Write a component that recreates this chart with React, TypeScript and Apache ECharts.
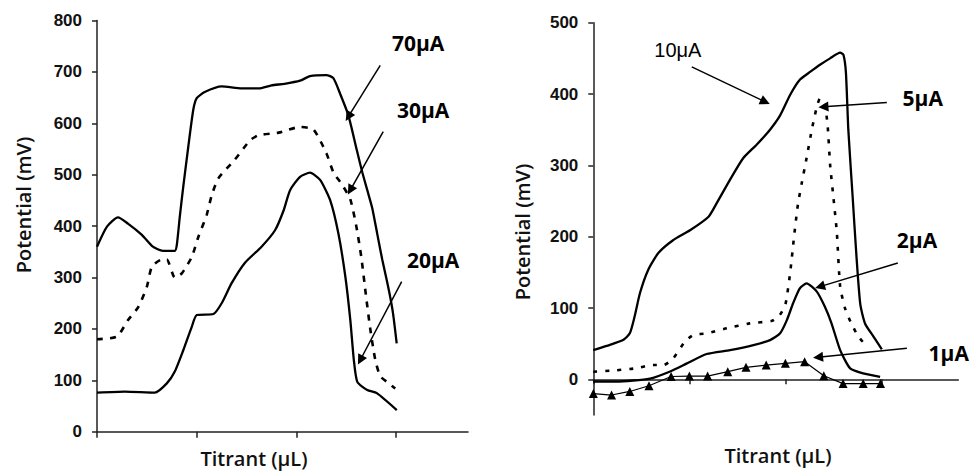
import React, { useEffect, useRef } from "react";
import * as echarts from "echarts";

// ---------- Left panel data (x: titrant, arbitrary units; y: potential mV) ----------
const current70uA: [number, number][] = [
  [0, 360], [10, 399], [21, 417], [31, 405], [45, 383], [56, 360], [66, 352], [78, 352],
  [80, 363], [83, 418], [86.5, 477], [91.5, 554], [96.5, 626], [100, 649], [108, 661],
  [125, 672], [145, 668], [162, 668], [175, 674], [188, 677], [203.6, 683], [213.6, 692],
  [230, 694], [237, 688], [243.7, 658], [252, 616], [260.5, 548], [266, 505], [271, 470],
  [276, 435], [281, 385], [286, 335], [290.5, 295], [294, 262], [297, 228], [300.5, 172],
];
const current30uA: [number, number][] = [
  [0, 180], [20, 185], [31, 217], [41.5, 243], [50, 282], [55, 321], [65, 335], [70, 335],
  [78, 300], [85, 308], [95, 340], [101.6, 379], [110, 422], [115, 460], [121.7, 493],
  [138, 529], [153.5, 567], [162, 577], [182, 582], [203.6, 593], [217, 588], [230, 542],
  [237, 505], [246, 480], [254, 452], [260, 400], [265, 340], [270, 260], [274, 200],
  [279, 140], [284, 108], [292, 95], [299, 84],
];
const current20uA: [number, number][] = [
  [0, 76], [28, 78], [58, 76], [70, 94], [78, 117], [86.6, 159], [95, 204], [100, 227],
  [116.7, 229], [125, 250], [135, 289], [148, 328], [165, 360], [178.5, 392], [187, 430],
  [193.6, 470], [203.6, 496], [213.6, 504], [223.7, 490], [233.7, 451], [242, 386],
  [249, 302], [254, 217], [257.5, 140], [261, 97], [271, 81], [280.6, 75], [300.6, 42],
];

// ---------- Right panel data ----------
const current10uA: [number, number][] = [
  [0, 41], [14, 47], [31, 55], [38, 64.5], [43, 88], [48.6, 121], [57, 153], [67.7, 177],
  [83, 195], [100.7, 209], [120, 228], [128.5, 247], [142.4, 280], [156, 310], [170, 329],
  [184, 350], [194.5, 370], [205, 399], [215, 420], [225.7, 431], [236, 441], [246.5, 450],
  [257, 458], [260.4, 455], [263, 430], [265.5, 350], [270, 256], [274, 172], [278, 105],
  [283, 78], [291.7, 60], [300.4, 42],
];
const current5uA: [number, number][] = [
  [0, 10.7], [17, 12], [41.7, 15], [62.5, 20], [73, 20], [83, 29], [95.5, 53], [104, 62],
  [118, 64.5], [139, 71.5], [163, 78.5], [186, 82], [194, 90], [200, 105], [205, 150],
  [209, 200], [213, 245], [217, 275], [222, 310], [227.5, 350], [232, 378], [236, 394],
  [241, 385], [244, 355], [246.6, 300], [250, 255], [253.5, 207], [257, 130], [262, 100],
  [268, 80], [276, 60], [285, 46],
];
const current2uA: [number, number][] = [
  [0, -3], [24, -3], [59, 1], [80, 11], [97, 22], [118, 35.5], [142.4, 41], [166.7, 48],
  [184, 55], [194.5, 64.5], [201.5, 83], [208, 106.6], [215, 127.6], [222, 134.6],
  [232.7, 123], [241, 102], [248, 78.5], [257, 41], [267.4, 15.4], [281, 8.4], [298.6, 3.6],
];
const current1uA: [number, number][] = [
  [0, -20], [19, -22], [38, -17], [58, -9], [81, 4], [100, 4.6], [119, 4.6], [140, 10.7],
  [159, 16.8], [180, 20], [200, 22.4], [220, 24.7], [240, 5], [260, -6], [281, -6], [299, -6],
];

// ---------- Axis ticks ----------
const leftYTicks = [0, 100, 200, 300, 400, 500, 600, 700, 800];
const rightYTicks = [0, 100, 200, 300, 400, 500];
const xTicks = [0, 100, 200, 300];

// ---------- Annotations (data coordinates) ----------
const annotations = [
  { grid: 0, label: "70μA", at: [322, 756], from: [284, 713], to: [252, 613], bold: true },
  { grid: 0, label: "30μA", at: [327, 626], from: [287, 584], to: [254, 470], bold: true },
  { grid: 0, label: "20μA", at: [337, 334], from: [305.5, 292], to: [264, 139.5], bold: true },
  { grid: 1, label: "10μA", at: [88, 462], from: [102.5, 438], to: [179, 389], bold: false },
  { grid: 1, label: "5μA", at: [343, 394.5], from: [305.6, 388], to: [239.6, 382], bold: true },
  { grid: 1, label: "2μA", at: [337, 195], from: [317, 163], to: [236, 130], bold: true },
  { grid: 1, label: "1μA", at: [370, 37], from: [326.5, 43.5], to: [234, 31], bold: true },
];

const axisLineStyle = { color: "#222", width: 1.5 };
const tickFont = { fontSize: 17, fontFamily: "Liberation Sans", fontWeight: "bold" as const, color: "#111" };

export default function App() {
  const ref = useRef<HTMLDivElement>(null);

  useEffect(() => {
    if (!ref.current) return;
    const chart = echarts.init(ref.current, null, { renderer: "svg" });

    const arrowsFor = (g: number) =>
      annotations
        .filter((a) => a.grid === g)
        .map((a) => [{ coord: a.from }, { coord: a.to }]);

    const markLine = (g: number) => ({
      silent: true,
      symbol: ["none", "triangle"],
      symbolSize: 10,
      label: { show: false },
      emphasis: { disabled: true },
      lineStyle: { color: "#000", width: 1.5, type: "solid" },
      data: arrowsFor(g),
    });

    const solid = { color: "#000", width: 2.3 };

    const option: any = {
      animation: false,
      backgroundColor: "#fff",
      grid: [
        { left: 97, top: 20.6, width: 371, height: 411.1 },
        { left: 593.3, top: 22.7, width: 365, height: 392.3 },
      ],
      xAxis: [
        {
          type: "value", gridIndex: 0, min: 0, max: 372,
          axisLine: { show: true, onZero: false, lineStyle: axisLineStyle },
          axisTick: { show: true, length: 6, customValues: xTicks, lineStyle: axisLineStyle },
          axisLabel: { show: false },
          splitLine: { show: false },
        },
        {
          type: "value", gridIndex: 1, min: 0, max: 380,
          axisLine: { show: true, onZero: true, lineStyle: axisLineStyle },
          axisTick: { show: true, length: 5, customValues: xTicks, lineStyle: axisLineStyle },
          axisLabel: { show: false },
          splitLine: { show: false },
        },
      ],
      yAxis: [
        {
          type: "value", gridIndex: 0, min: 0, max: 800, interval: 100,
          axisLine: { show: true, lineStyle: axisLineStyle },
          axisTick: { show: true, length: 5, customValues: leftYTicks, lineStyle: axisLineStyle },
          axisLabel: { ...tickFont, margin: 15, customValues: leftYTicks },
          splitLine: { show: false },
        },
        {
          type: "value", gridIndex: 1, min: -50, max: 500,
          axisLine: { show: true, onZero: false, lineStyle: axisLineStyle },
          axisTick: { show: true, length: 5, customValues: rightYTicks, lineStyle: axisLineStyle },
          axisLabel: { ...tickFont, margin: 15, customValues: rightYTicks },
          splitLine: { show: false },
        },
      ],
      series: [
        {
          name: "70μA", type: "line", xAxisIndex: 0, yAxisIndex: 0, data: current70uA,
          showSymbol: false, smooth: 0.2, lineStyle: solid, markLine: markLine(0),
        },
        {
          name: "30μA", type: "line", xAxisIndex: 0, yAxisIndex: 0, data: current30uA,
          showSymbol: false, smooth: 0.2, lineStyle: { color: "#000", width: 2.6, type: [6, 7] },
        },
        {
          name: "20μA", type: "line", xAxisIndex: 0, yAxisIndex: 0, data: current20uA,
          showSymbol: false, smooth: 0.2, lineStyle: solid,
        },
        {
          name: "10μA", type: "line", xAxisIndex: 1, yAxisIndex: 1, data: current10uA,
          showSymbol: false, smooth: 0.2, lineStyle: solid, markLine: markLine(1),
        },
        {
          name: "5μA", type: "line", xAxisIndex: 1, yAxisIndex: 1, data: current5uA,
          showSymbol: false, smooth: 0.2, lineStyle: { color: "#000", width: 2.6, type: [4, 8] },
        },
        {
          name: "2μA", type: "line", xAxisIndex: 1, yAxisIndex: 1, data: current2uA,
          showSymbol: false, smooth: 0.2, lineStyle: solid,
        },
        {
          name: "1μA", type: "line", xAxisIndex: 1, yAxisIndex: 1, data: current1uA,
          showSymbol: true, symbol: "triangle", symbolSize: 9,
          itemStyle: { color: "#000" }, lineStyle: { color: "#000", width: 1.2 },
        },
      ],
    };

    chart.setOption(option);

    const nameStyle = {
      fontFamily: "Open Sans", fontSize: 20, fontWeight: 600, fill: "#111",
      align: "center", verticalAlign: "middle",
    };
    const graphics: any[] = [
      { type: "text", x: 23, y: 205, rotation: Math.PI / 2, style: { ...nameStyle, text: "Potential (mV)" } },
      { type: "text", x: 522, y: 232, rotation: Math.PI / 2, style: { ...nameStyle, text: "Potential (mV)" } },
      { type: "text", x: 254, y: 458, style: { ...nameStyle, text: "Titrant (μL)" } },
      { type: "text", x: 778, y: 455, style: { ...nameStyle, text: "Titrant (μL)" } },
    ];
    annotations.forEach((a) => {
      const p = chart.convertToPixel({ gridIndex: a.grid }, a.at) as number[];
      graphics.push({
        type: "text", x: p[0], y: p[1],
        style: {
          text: a.label, fontFamily: a.bold ? "Open Sans" : "Liberation Sans",
          fontSize: a.bold ? 21 : 20,
          fontWeight: a.bold ? "bold" : "normal", fill: "#000",
          align: "center", verticalAlign: "middle",
        },
      });
    });
    chart.setOption({ graphic: graphics });

    return () => chart.dispose();
  }, []);

  return (
    <div
      ref={ref}
      style={{ position: "fixed", left: 0, top: 0, width: 973, height: 474, background: "#fff" }}
    />
  );
}
